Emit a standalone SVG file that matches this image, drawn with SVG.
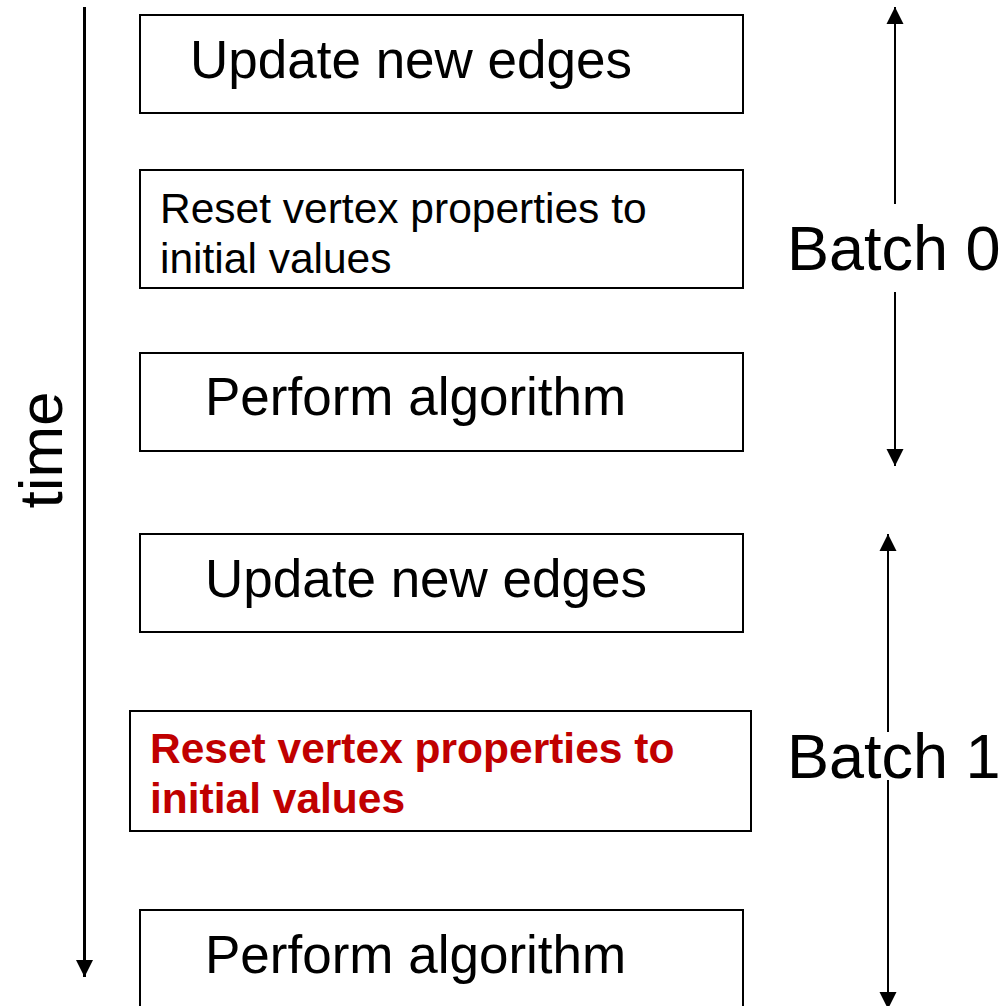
<svg xmlns="http://www.w3.org/2000/svg" width="1007" height="1006" viewBox="0 0 1007 1006">
  <style>
    .box { fill: #ffffff; stroke: #000000; stroke-width: 2; }
    .big { font-family: "Liberation Sans", Arial, sans-serif; font-size: 53px; fill: #000000; }
    .small { font-family: "Liberation Sans", Arial, sans-serif; font-size: 42.5px; fill: #000000; }
    .red { font-family: "Liberation Sans", Arial, sans-serif; font-size: 42.5px; font-weight: bold; fill: #C00000; }
    .batch { font-family: "Liberation Sans", Arial, sans-serif; font-size: 63px; fill: #000000; }
    .conn { stroke: #000000; fill: none; }
  </style>
  <defs>
    <marker id="head" markerUnits="userSpaceOnUse" markerWidth="18" markerHeight="18" refX="17" refY="9" orient="auto">
      <path d="M0,0.5 L17,9 L0,17.5 Z" fill="#000000"/>
    </marker>
  </defs>

  <rect width="1007" height="1006" fill="#ffffff"/>

  <g id="connectors">
    <!-- time axis -->
    <line class="conn" x1="84.5" y1="7" x2="84.5" y2="977" stroke-width="3" marker-end="url(#head)"/>
    <!-- Batch 0 span -->
    <line class="conn" x1="895" y1="204" x2="895" y2="7" stroke-width="2" marker-end="url(#head)"/>
    <line class="conn" x1="895" y1="292" x2="895" y2="466" stroke-width="2" marker-end="url(#head)"/>
    <!-- Batch 1 span -->
    <line class="conn" x1="888" y1="732" x2="888" y2="534" stroke-width="2" marker-end="url(#head)"/>
    <line class="conn" x1="888" y1="780" x2="888" y2="1009" stroke-width="2" marker-end="url(#head)"/>
  </g>

  <g id="time-label">
    <text class="batch" x="62" y="450" text-anchor="middle" transform="rotate(-90 62 450)" style="font-size:62px">time</text>
  </g>

  <g id="batch0-label">
    <text class="batch" x="787" y="270">Batch 0</text>
  </g>
  <g id="batch1-label">
    <text class="batch" x="787" y="778">Batch 1</text>
  </g>

  <g id="b0-update">
    <rect class="box" x="140" y="15" width="603" height="98"/>
    <text class="big" x="190" y="78">Update new edges</text>
  </g>
  <g id="b0-reset">
    <rect class="box" x="140" y="170" width="603" height="118"/>
    <text class="small" x="160" y="223">Reset vertex properties to</text>
    <text class="small" x="160" y="273">initial values</text>
  </g>
  <g id="b0-perform">
    <rect class="box" x="140" y="353" width="603" height="98"/>
    <text class="big" x="205" y="415">Perform algorithm</text>
  </g>

  <g id="b1-update">
    <rect class="box" x="140" y="534" width="603" height="98"/>
    <text class="big" x="205" y="597">Update new edges</text>
  </g>
  <g id="b1-reset">
    <rect class="box" x="130" y="711" width="621" height="120"/>
    <text class="red" x="150" y="763">Reset vertex properties to</text>
    <text class="red" x="150" y="813">initial values</text>
  </g>
  <g id="b1-perform">
    <rect class="box" x="140" y="910" width="603" height="110"/>
    <text class="big" x="205" y="973">Perform algorithm</text>
  </g>
</svg>
